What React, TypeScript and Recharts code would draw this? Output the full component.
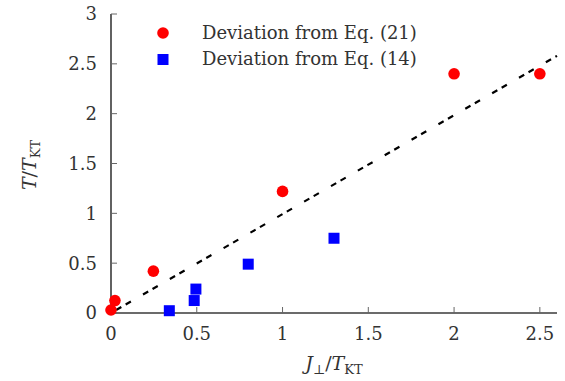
import React from "react";
import { ComposedChart, Scatter, XAxis, YAxis, Legend } from "recharts";

const eq21Points = [
  { x: 0.0, y: 0.03 },
  { x: 0.023, y: 0.125 },
  { x: 0.247, y: 0.42 },
  { x: 1.0, y: 1.22 },
  { x: 2.0, y: 2.4 },
  { x: 2.5, y: 2.4 },
];
const eq14Points = [
  { x: 0.34, y: 0.023 },
  { x: 0.485, y: 0.125 },
  { x: 0.495, y: 0.24 },
  { x: 0.8, y: 0.49 },
  { x: 1.3, y: 0.75 },
];
const guideLine = [
  { x: 0.03, y: 0.03 },
  { x: 2.6, y: 2.58 },
];
const seriesNames = ["Deviation from Eq. (21)", "Deviation from Eq. (14)"];
const xTicks = [0, 0.5, 1, 1.5, 2, 2.5];
const yTicks = [0, 0.5, 1, 1.5, 2, 2.5, 3];

const FONT = "DejaVu Serif, Liberation Serif, serif";
const TEXT = "#333";
const FRAME = "#3a3a3a";

const dot = (props: any) => (
  <circle cx={props.cx} cy={props.cy} r={5.8} fill="#ff0000" />
);
const square = (props: any) => (
  <rect x={props.cx - 5.5} y={props.cy - 5.5} width={11} height={11} fill="#0000ff" />
);

const renderLegend = (props: any) => {
  const items = (props.payload || []).filter((p: any) => seriesNames.includes(p.value));
  items.sort((a: any, b: any) => seriesNames.indexOf(a.value) - seriesNames.indexOf(b.value));
  return (
    <svg width={300} height={60} style={{ display: "block" }}>
      {items.map((p: any, i: number) => {
        const cy = 15 + i * 26.5;
        return (
          <g key={p.value}>
            {p.value === seriesNames[0] ? (
              <circle cx={15} cy={cy} r={5.8} fill="#ff0000" />
            ) : (
              <rect x={9.5} y={cy - 5.5} width={11} height={11} fill="#0000ff" />
            )}
            <text x={54} y={cy + 5.5} fontFamily={FONT} fontSize={18} fill={TEXT}>
              {p.value}
            </text>
          </g>
        );
      })}
    </svg>
  );
};

const yLabel = () => (
  <text
    x={36}
    y={165}
    transform="rotate(-90, 36, 165)"
    textAnchor="middle"
    fontFamily={FONT}
    fontSize={19}
    fill={TEXT}
  >
    <tspan fontStyle="italic">T</tspan>
    <tspan>/</tspan>
    <tspan fontStyle="italic">T</tspan>
    <tspan fontSize={13} dy={4}>KT</tspan>
  </text>
);

const xLabel = () => (
  <text x={334} y={370} textAnchor="middle" fontFamily={FONT} fontSize={19} fill={TEXT}>
    <tspan fontStyle="italic">J</tspan>
    <tspan fontSize={13} dy={4}>⊥</tspan>
    <tspan dy={-4}>/</tspan>
    <tspan fontStyle="italic">T</tspan>
    <tspan fontSize={13} dy={4}>KT</tspan>
  </text>
);

const tickStyle = { fontFamily: FONT, fontSize: 18, fill: TEXT };

export default function App() {
  return (
    <div style={{ position: "absolute", left: 0, top: 0, width: 565, height: 381, background: "#fff" }}>
      <ComposedChart
        width={565}
        height={381}
        margin={{ top: 14, right: 8, bottom: 28, left: 51 }}
      >
        <XAxis
          xAxisId="b"
          type="number"
          dataKey="x"
          domain={[0, 2.6]}
          ticks={xTicks}
          height={40}
          axisLine={{ stroke: FRAME, strokeWidth: 1.6 }}
          tickLine={{ stroke: "#666" }}
          tickSize={-6}
          tickMargin={20}
          tick={tickStyle}
          label={xLabel}
        />
        <XAxis
          xAxisId="t"
          orientation="top"
          type="number"
          dataKey="x"
          domain={[0, 2.6]}
          ticks={xTicks}
          height={0}
          axisLine={{ stroke: FRAME, strokeWidth: 1.6 }}
          tickLine={{ stroke: "#666" }}
          tickSize={-6}
          tick={false}
        />
        <YAxis
          yAxisId="l"
          type="number"
          dataKey="y"
          domain={[0, 3]}
          ticks={yTicks}
          width={60}
          axisLine={{ stroke: FRAME, strokeWidth: 1.6 }}
          tickLine={{ stroke: "#666" }}
          tickSize={-6}
          tickMargin={20}
          tick={tickStyle}
          label={yLabel}
        />
        <YAxis
          yAxisId="r"
          orientation="right"
          type="number"
          dataKey="y"
          domain={[0, 3]}
          ticks={yTicks}
          width={0}
          axisLine={{ stroke: FRAME, strokeWidth: 1.6 }}
          tickLine={{ stroke: "#666" }}
          tickSize={-6}
          tick={false}
        />
        <Legend
          verticalAlign="middle"
          layout="horizontal"
          wrapperStyle={{ position: "absolute", left: 148, top: 18, width: 300 }}
          content={renderLegend}
        />
        <Scatter
          name="fit"
          xAxisId="b"
          yAxisId="l"
          data={guideLine}
          legendType="none"
          line={{ stroke: "#000", strokeWidth: 2.2, strokeDasharray: "6 5 6 14" }}
          shape={() => <g />}
          isAnimationActive={false}
        />
        <Scatter
          name={seriesNames[0]}
          xAxisId="b"
          yAxisId="l"
          data={eq21Points}
          fill="#ff0000"
          shape={dot}
          isAnimationActive={false}
        />
        <Scatter
          name={seriesNames[1]}
          xAxisId="b"
          yAxisId="l"
          data={eq14Points}
          fill="#0000ff"
          shape={square}
          isAnimationActive={false}
        />
      </ComposedChart>
    </div>
  );
}
